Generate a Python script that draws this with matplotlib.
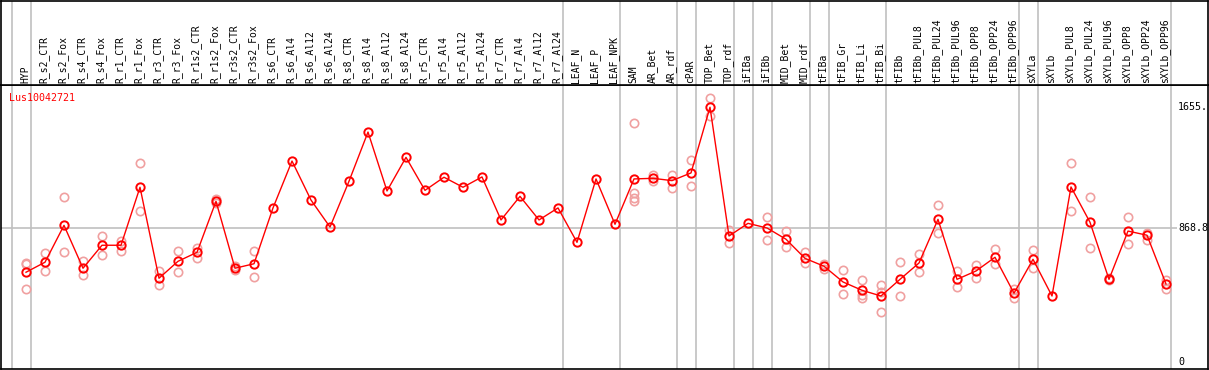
import numpy as np
import matplotlib.pyplot as plt

# categories along the top
labels = ['HYP', 'R_s2_CTR', 'R_s2_Fox', 'R_s4_CTR', 'R_s4_Fox', 'R_r1_CTR', 'R_r1_Fox',
          'R_r3_CTR', 'R_r3_Fox', 'R_r1s2_CTR', 'R_r1s2_Fox', 'R_r3s2_CTR', 'R_r3s2_Fox',
          'R_s6_CTR', 'R_s6_Al4', 'R_s6_Al12', 'R_s6_Al24', 'R_s8_CTR', 'R_s8_Al4',
          'R_s8_Al12', 'R_s8_Al24', 'R_r5_CTR', 'R_r5_Al4', 'R_r5_Al12', 'R_r5_Al24',
          'R_r7_CTR', 'R_r7_Al4', 'R_r7_Al12', 'R_r7_Al24', 'LEAF_N', 'LEAF_P', 'LEAF_NPK',
          'SAM', 'AR_Bet', 'AR_rdf', 'cPAR', 'TOP_Bet', 'TOP_rdf', 'iFIBa', 'iFIBb',
          'MID_Bet', 'MID_rdf', 'tFIBa', 'tFIB_Gr', 'tFIB_Li', 'tFIB_Bi', 'tFIBb',
          'tFIBb_PUL8', 'tFIBb_PUL24', 'tFIBb_PUL96', 'tFIBb_OPP8', 'tFIBb_OPP24',
          'tFIBb_OPP96', 'sXYLa', 'sXYLb', 'sXYLb_PUL8', 'sXYLb_PUL24', 'sXYLb_PUL96',
          'sXYLb_OPP8', 'sXYLb_OPP24', 'sXYLb_OPP96']

# mean expression per category
means = [582, 647, 886, 608, 757, 757, 1133, 543, 653, 711, 1042, 608, 637,
         999, 1303, 1050, 875, 1172, 1491, 1109, 1327, 1113, 1198, 1133, 1200,
         921, 1074, 921, 999, 776, 1187, 893,
         1187, 1191, 1176, 1226, 1652, 817, 899, 869, 796, 672, 621, 519, 465, 428, 536,
         642, 925, 536, 590, 679, 446, 666, 428, 1135, 906, 536, 849, 822, 506]

# replicate values (category index -> values)
reps = {0: [642, 634, 471], 1: [707, 588], 2: [1068, 711], 3: [655, 562],
        4: [815, 692], 5: [787, 722], 6: [1288, 977], 7: [590, 497],
        8: [718, 582], 9: [741, 676], 10: [1059, 1033], 11: [623, 597],
        12: [718, 549], 32: [1550, 1098, 1061, 1046], 33: [1213, 1176],
        34: [1213, 1126], 35: [1310, 1139], 36: [1712, 1595], 37: [856, 774],
        39: [940, 789], 40: [849, 744], 41: [711, 640], 42: [634, 605],
        43: [595, 439], 44: [530, 434, 417], 45: [499, 452, 322], 46: [647, 428],
        47: [700, 584], 48: [1016, 835], 49: [588, 484], 50: [629, 543],
        51: [733, 634], 52: [473, 417], 53: [724, 608], 55: [1288, 977],
        56: [1068, 737], 57: [543, 530], 58: [940, 765], 59: [836, 793],
        60: [532, 471]}

# group separators (after these category indices)
separators = [-1, 0, 28, 31, 34, 35, 37, 38, 39, 41, 42, 45, 52, 53, 60]

gene = 'Lus10042721'
ytick_vals = [1655, 868.8, 0]
ytick_text = ['1655.', '868.8', '0']

W, H = 1209, 370
fig = plt.figure(figsize=(W / 100, H / 100), dpi=100)
mono = 'DejaVu Sans Mono'

x = np.arange(len(labels))
xlim = ((1 - 26) / 19, (1208 - 26) / 19)
scale = 6.484
ylim = ((362 - 369) * scale, (362 - 85) * scale)

ax = fig.add_axes([1 / W, 1 / H, 1207 / W, 284 / H])
hd = fig.add_axes([1 / W, 285 / H, 1207 / W, 84 / H], sharex=ax)

for a in (ax, hd):
    a.set_xlim(*xlim)
    a.set_xticks([])
    a.set_yticks([])
    for s in a.spines.values():
        s.set_color('black')
        s.set_linewidth(1.2)
    for sep in separators:
        a.axvline(sep + 5 / 19, color='#c0c0c0', lw=1.2, zorder=0)

ax.set_ylim(*ylim)
hd.set_ylim(0, 84)

for i, lab in enumerate(labels):
    hd.text(i - 1 / 19, 2, lab, rotation=90, ha='center', va='bottom',
            fontsize=7, family=mono, color='black')

ax.hlines(868.8, xlim[0], (1177 - 26) / 19, color='#c0c0c0', lw=1.2, zorder=0)

for i, vals in reps.items():
    ax.plot([i] * len(vals), vals, 'o', ms=6, mfc='none', mec='#f0a0a0', mew=1.2, zorder=2)

ax.plot(x, means, '-', color='red', lw=1, zorder=3)
ax.plot(x, means, 'o', ms=6, mfc='none', mec='red', mew=1.4, zorder=4)

for v, t in zip(ytick_vals, ytick_text):
    ax.text((1178 - 26) / 19, v, t, ha='left', va='center', fontsize=7.2,
            family=mono, color='black')

ax.text(0.007, 0.955, gene, transform=ax.transAxes, ha='left', va='center',
        fontsize=7.2, family=mono, color='red')

fig.savefig('out.png', dpi=100)
